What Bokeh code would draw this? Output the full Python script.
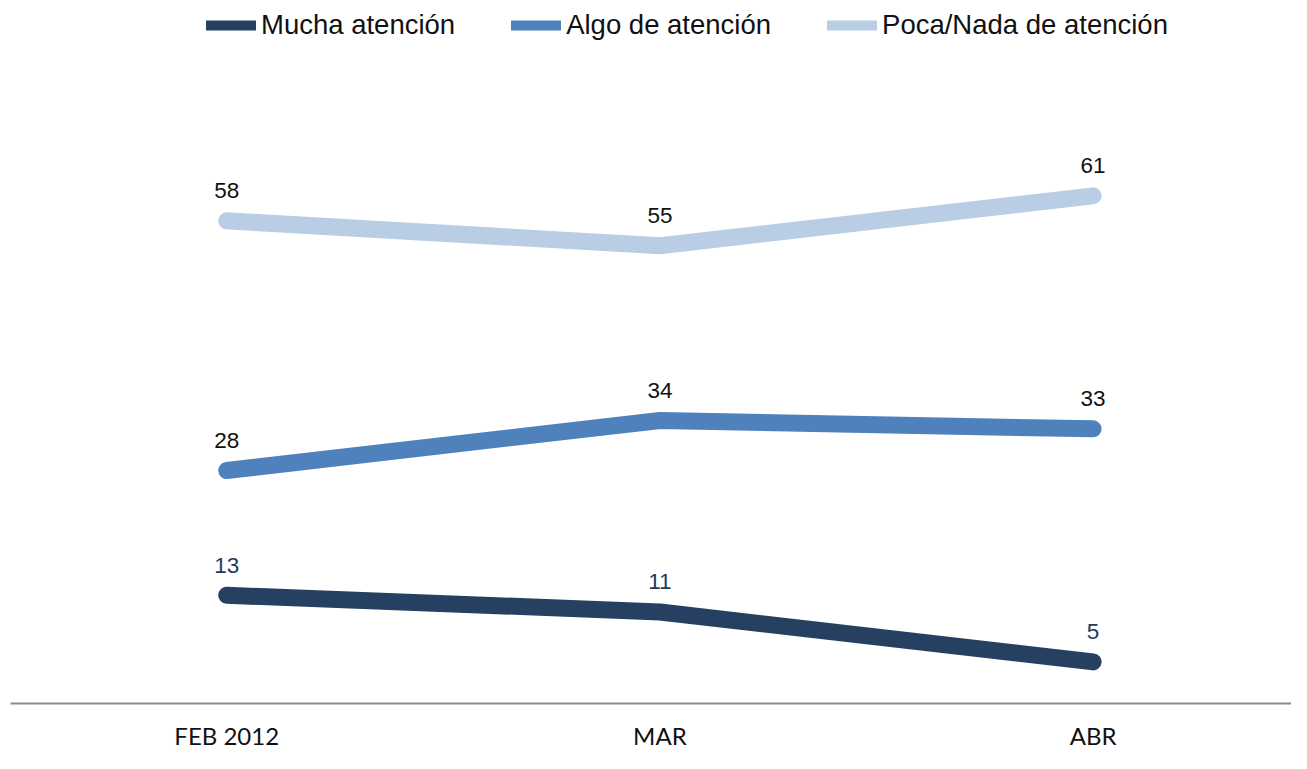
from bokeh.plotting import figure
from bokeh.models import ColumnDataSource, Legend, LegendItem, FixedTicker, Range1d
from bokeh.core.properties import value
from bokeh.embed import file_html
from bokeh.resources import INLINE

categories = ["FEB 2012", "MAR", "ABR"]
mucha = [13, 11, 5]
algo = [28, 34, 33]
poca = [58, 55, 61]

series_names = ["Mucha atención", "Algo de atención", "Poca/Nada de atención"]
series_values = [mucha, algo, poca]
colors = ["#264061", "#4f81bd", "#b9cde5"]
label_colors = ["#1f3a5f", "#111111", "#111111"]

xs = list(range(len(categories)))

p = figure(width=1291, height=753, output_backend="svg", toolbar_location=None,
           x_range=Range1d(-0.4991, 2.458), y_range=Range1d(0, 84.47),
           min_border_left=10, min_border_right=0, min_border_top=0, min_border_bottom=50)
p.outline_line_color = None
p.xgrid.visible = False
p.ygrid.visible = False
p.yaxis.visible = False
p.background_fill_color = "white"

legend_items = []
for name, vals, col, lcol in zip(series_names, series_values, colors, label_colors):
    src = ColumnDataSource(dict(x=xs, y=vals, t=[str(v) for v in vals]))
    p.line("x", "y", source=src, line_color=col, line_width=17, line_cap="round", line_join="round")
    p.text("x", "y", text="t", source=src, text_align="center", text_baseline="middle",
           y_offset=-30, text_font=value("Liberation Sans"), text_font_size="22.5px", text_color=lcol)
    # legend-only renderer, placed outside the visible range
    dummy = p.line([-10, -9], [-10, -10], line_color=col, line_width=10, line_cap="round")
    legend_items.append(LegendItem(label=name, renderers=[dummy]))

legend = Legend(items=legend_items, orientation="horizontal", location=(196, 662),
                padding=0, margin=0, spacing=56, glyph_width=50, glyph_height=30,
                label_height=30, label_standoff=5,
                label_text_font="Liberation Sans", label_text_font_size="27.5px",
                label_text_color="#111111", border_line_alpha=0, background_fill_alpha=0)
p.add_layout(legend)

p.xaxis.ticker = FixedTicker(ticks=xs)
p.xaxis.major_label_overrides = {i: c for i, c in enumerate(categories)}
p.xaxis.axis_line_color = "#8c8c8c"
p.xaxis.axis_line_width = 2
p.xaxis.major_tick_line_color = None
p.xaxis.minor_tick_line_color = None
p.xaxis.major_tick_out = 0
p.xaxis.major_tick_in = 0
p.xaxis.minor_tick_out = 0
p.xaxis.minor_tick_in = 0
p.xaxis.major_label_standoff = 17
p.xaxis.major_label_text_font = "Lato"
p.xaxis.major_label_text_font_size = "24px"
p.xaxis.major_label_text_color = "#111111"

open("out.html", "w").write(file_html(p, INLINE))
